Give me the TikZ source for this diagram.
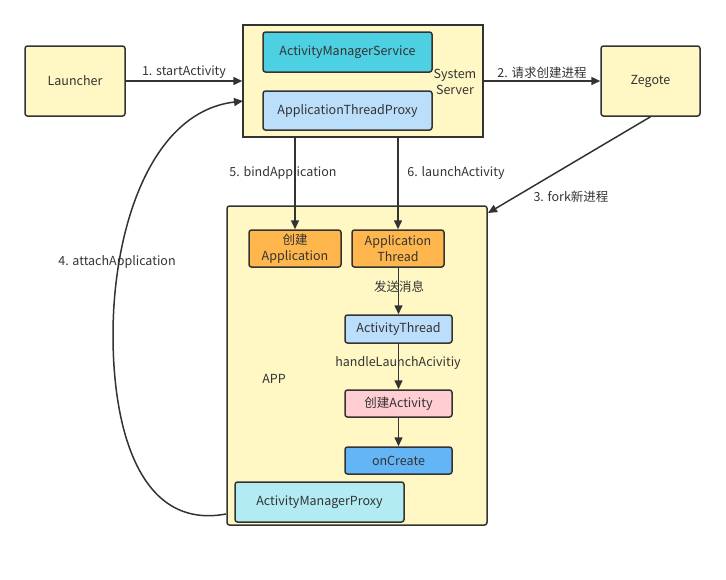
\documentclass[tikz,border=0pt]{standalone}
\usepackage{fontspec}
\setmainfont{Noto Sans CJK SC}
\usetikzlibrary{arrows.meta}
\definecolor{ink}{HTML}{333333}
\definecolor{paleY}{HTML}{FFF8C4}
\definecolor{cyanB}{HTML}{4DD0E1}
\definecolor{lblue}{HTML}{BBDEFB}
\definecolor{orangeB}{HTML}{FFB74D}
\definecolor{pinkB}{HTML}{FFCDD2}
\definecolor{blueB}{HTML}{64B5F6}
\definecolor{aquaB}{HTML}{B2EBF2}
\begin{document}
\begin{tikzpicture}[x=1pt,y=-1pt,
  every node/.style={font=\fontsize{12.5}{16}\selectfont, text=ink},
  box/.style={draw=ink, line width=1.5pt, rounded corners=2.5pt},
  conn/.style={draw=ink, line width=1.5pt, -{Triangle[length=9pt,width=8pt]}},
  lbl/.style={inner sep=1pt}]
\useasboundingbox (0,0) rectangle (726,579);
% containers
\node[box, fill=paleY, minimum width=240pt, minimum height=112pt, rounded corners=0pt] (srv) at (363,81) {};
\node[box, fill=paleY, minimum width=260pt, minimum height=319pt] (app) at (357,365.5) {};
\node[box, fill=paleY, minimum width=100pt, minimum height=70pt] (launcher) at (75,81) {Launcher};
\node[box, fill=paleY, minimum width=99pt, minimum height=70pt] (zeg) at (650.5,81) {Zegote};
\node[box, fill=cyanB, minimum width=169pt, minimum height=40pt] (ams) at (347.5,52) {ActivityManagerService};
\node[box, fill=lblue, minimum width=169pt, minimum height=39pt] (atp) at (347.5,110.5) {ApplicationThreadProxy};
\node[align=center, inner sep=0pt] (sstext) at (455,82) {System\\Server};
% app inner
\node[box, fill=orangeB, minimum width=92pt, minimum height=37pt, align=center, inner sep=1pt] (capp) at (295,248.5) {创建\\Application};
\node[box, fill=orangeB, minimum width=92pt, minimum height=37pt, align=center, inner sep=1pt] (athr) at (398,248.5) {Application\\Thread};
\node[box, fill=lblue, minimum width=107pt, minimum height=28pt] (actthr) at (398.5,329) {ActivityThread};
\node[box, fill=pinkB, minimum width=107pt, minimum height=27pt] (cact) at (398.5,403.5) {创建Activity};
\node[box, fill=blueB, minimum width=107pt, minimum height=27pt] (oncr) at (398.5,460.5) {onCreate};
\node[box, fill=aquaB, minimum width=169pt, minimum height=40pt] (amp) at (319.5,502) {ActivityManagerProxy};
\node (applbl) at (274,379) {APP};
% connectors
\draw[conn] (launcher.east) -- (srv.west |- launcher.east) node[midway, above=1pt, lbl] {1. startActivity};
\draw[conn] (srv.east |- zeg.west) -- (zeg.west) node[midway, above=1pt, lbl] {2. 请求创建进程};
\coordinate (appTR) at (488,213);
\draw[conn] (zeg.south) -- (appTR);
\node[lbl] (l3) at (571,197) {3. fork新进程};
\draw[conn] (srv.south -| capp.north) -- (capp.north);
\node[lbl] (l5) at (283,173) {5. bindApplication};
\draw[conn] (srv.south -| athr.north) -- (athr.north);
\node[lbl] (l6) at (456,173) {6. launchActivity};
\draw[conn] (athr.south -| actthr.north) -- (actthr.north);
\node[lbl] (l7) at (399,287) {发送消息};
\draw[conn] (actthr.south) -- (cact.north);
\node[lbl] (l8) at (398,363) {handleLaunchAcivitiy};
\draw[conn] (cact.south) -- (oncr.north);
\coordinate (c4s) at (226,514);
\coordinate (c4e) at (243,101);
\draw[conn] (c4s) .. controls (140,530) and (113,430) .. (113,335) .. controls (113,230) and (150,112) .. (c4e);
\node[lbl] (l4) at (117,262) {4. attachApplication};
\end{tikzpicture}
\end{document}
